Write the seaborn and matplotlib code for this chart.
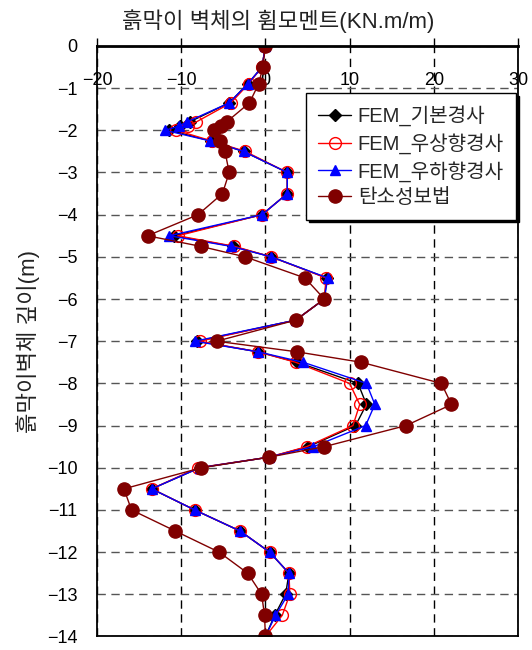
import matplotlib
matplotlib.use("Agg")
import matplotlib.pyplot as plt
import seaborn as sns

# Depth of each calculation node (m, negative downward)
depth = [0, -0.5, -0.9, -1.35, -1.8, -1.9, -2.0, -2.25, -2.5, -3.0, -3.5, -4.0,
         -4.5, -4.75, -5.0, -5.5, -6.0, -6.5, -7.0, -7.25, -7.5, -8.0, -8.5,
         -9.0, -9.5, -9.75, -10.0, -10.5, -11.0, -11.5, -12.0, -12.5, -13.0,
         -13.5, -14.0]

# Bending moment of the retaining wall (kN.m/m)
fem_base = [0, -0.4, -2.1, -4.3, -9.0, -10.2, -11.4, -6.5, -2.6, 2.6, 2.6, -0.4,
            -10.8, -3.9, 0.7, 7.3, 7.0, 3.6, -8.1, -0.9, 3.8, 11.0, 12.0,
            10.7, 5.1, 0.4, -7.8, -13.5, -8.4, -3.0, 0.5, 2.8, 2.4, 1.1, 0]
fem_up = [0, -0.4, -2.0, -4.1, -8.2, -9.2, -10.6, -6.4, -2.4, 2.6, 2.6, -0.4,
          -10.4, -3.7, 0.7, 7.2, 7.0, 3.6, -7.8, -0.9, 3.6, 10.0, 11.2,
          10.4, 4.9, 0.4, -8.0, -13.5, -8.4, -3.0, 0.5, 2.8, 2.9, 2.0, 0]
fem_down = [0, -0.4, -2.1, -4.3, -9.3, -10.3, -11.9, -6.6, -2.6, 2.6, 2.6, -0.4,
            -11.4, -4.1, 0.7, 7.4, 7.0, 3.6, -8.4, -0.9, 4.5, 12.0, 13.0,
            11.9, 5.7, 0.4, -7.8, -13.5, -8.4, -3.0, 0.5, 2.8, 2.7, 1.2, 0]
elasto_plastic = [0, -0.3, -0.8, -1.9, -4.6, -5.3, -6.1, -5.4, -4.8, -4.3, -5.1,
                  -8.0, -14.0, -7.7, -2.4, 4.7, 7.0, 3.6, -5.8, 3.7, 11.4, 20.9,
                  22.1, 16.7, 7.0, 0.4, -7.6, -16.8, -15.9, -10.7, -5.5, -2.1,
                  -0.45, -0.1, 0]

labels = ["FEM_기본경사", "FEM_우상향경사", "FEM_우하향경사", "탄소성보법"]
x_ticks = [-20, -10, 0, 10, 20, 30]
y_ticks = list(range(-14, 1))

sns.set_style("white")
plt.rcParams["font.family"] = ["Liberation Sans", "Noto Sans CJK KR"]
plt.rcParams["axes.unicode_minus"] = True

fig = plt.figure(figsize=(5.32, 6.5), dpi=100)
ax = fig.add_axes([0.1823, 0.0208, 0.7914, 0.9085])

styles = [
    dict(color="black", marker="D", markersize=6, markerfacecolor="black",
         markeredgecolor="black", markeredgewidth=1),
    dict(color="red", marker="o", markersize=8.5, markerfacecolor="none",
         markeredgecolor="red", markeredgewidth=1),
    dict(color="blue", marker="^", markersize=7.5, markerfacecolor="blue",
         markeredgecolor="blue", markeredgewidth=1),
    dict(color="#800000", marker="o", markersize=9.5, markerfacecolor="#800000",
         markeredgecolor="#800000", markeredgewidth=1),
]
for vals, lab, st in zip([fem_base, fem_up, fem_down, elasto_plastic], labels, styles):
    sns.lineplot(x=vals, y=depth, sort=False, estimator=None, linewidth=1,
                 label=lab, ax=ax, **st)

ax.set_xlim(-20, 30)
ax.set_ylim(-14, 0)
ax.set_xticks(x_ticks)
ax.set_yticks(y_ticks)
ax.xaxis.tick_top()
ax.tick_params(axis="x", direction="out", length=6, width=1, pad=-37,
               labelsize=13, colors="black")
ax.tick_params(axis="y", length=0, pad=14, labelsize=13, colors="black")

ax.xaxis.grid(True, color="black", linestyle=(0, (6, 4)), linewidth=1)
ax.yaxis.grid(True, color="#555555", linestyle=(0, (6, 4)), linewidth=1)

for side, sp in ax.spines.items():
    sp.set_visible(True)
    sp.set_color("black")
    sp.set_linewidth(2 if side == "top" else 1.3)

ax.set_xlabel("")
ax.set_ylabel("흙막이벽체 깊이(m)", fontsize=16, labelpad=5, color="#222222")

fig.text(0.522, 0.968, "흙막이 벽체의 휨모멘트(KN.m/m)", ha="center", va="center",
         fontsize=16, color="#222222")

leg = ax.legend(loc="upper right", bbox_to_anchor=(0.995, 0.92), borderaxespad=0,
                fancybox=False, shadow={"color": "black", "alpha": 1},
                edgecolor="black", framealpha=1, fontsize=14.5, handlelength=1.6,
                borderpad=0.6, labelspacing=0.34, handletextpad=0.35)
leg.get_frame().set_linewidth(1)

fig.savefig("out.png", dpi=100)
